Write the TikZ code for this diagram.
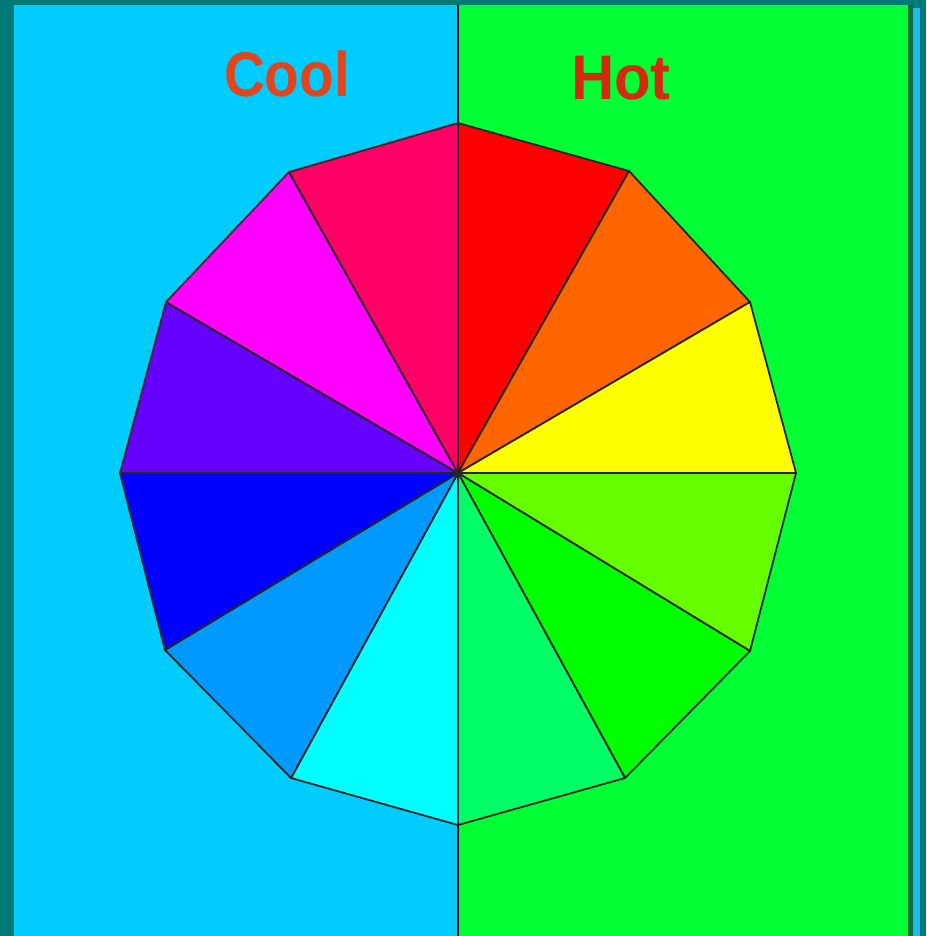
\documentclass[tikz,border=0pt]{standalone}
\usepackage{fontspec}
\setmainfont{Liberation Sans}
\definecolor{teal0}{HTML}{007A76}
\definecolor{coolbg}{HTML}{00CCFF}
\definecolor{hotbg}{HTML}{00FF33}
\definecolor{darkedge}{HTML}{0A6E40}
\definecolor{edgeblue}{HTML}{22BBEE}
\definecolor{cooltxt}{HTML}{E2441C}
\definecolor{hottxt}{HTML}{D42A12}
\definecolor{cRed}{HTML}{FF0000}
\definecolor{cOrange}{HTML}{FF6600}
\definecolor{cYellow}{HTML}{FFFF00}
\definecolor{cLime}{HTML}{66FF00}
\definecolor{cGreen}{HTML}{00FF00}
\definecolor{cSpring}{HTML}{00FF66}
\definecolor{cCyan}{HTML}{00FFFF}
\definecolor{cAzure}{HTML}{0099FF}
\definecolor{cBlue}{HTML}{0000FF}
\definecolor{cViolet}{HTML}{6600FF}
\definecolor{cMagenta}{HTML}{FF00FF}
\definecolor{cRose}{HTML}{FF0066}
\begin{document}
\begin{tikzpicture}[x=1pt,y=-1pt,
  wedge/.style={draw=black!85, line width=1.8pt, line join=round},
  label/.style={inner sep=0pt, font=\fontsize{63}{70}\selectfont\bfseries}]
\useasboundingbox (0,0) rectangle (926,936);
% backgrounds
\fill[teal0] (0,0) rectangle (926,936);
\fill[coolbg] (14,5) rectangle (458,936);
\fill[hotbg] (458,5) rectangle (908,936);
\fill[darkedge] (908,5) rectangle (913,936);
\fill[edgeblue] (913,8) rectangle (920,936);
% coordinates
\coordinate (O) at (458,473);
\coordinate (v0) at (796,473);
\coordinate (v30) at (750,302);
\coordinate (v60) at (629,171);
\coordinate (v90) at (458,123);
\coordinate (v120) at (289,172);
\coordinate (v150) at (166,302);
\coordinate (v180) at (120,473);
\coordinate (v210) at (165,650);
\coordinate (v240) at (291,778);
\coordinate (v270) at (458,825);
\coordinate (v300) at (625,778);
\coordinate (v330) at (750,651);
\coordinate (top) at (458,5);
\coordinate (bot) at (458,936);
% divider
\draw[black, line width=1.6pt] (top) -- (bot);
% wedges
\draw[wedge, fill=cRed] (O) -- (v90) -- (v60) -- cycle;
\draw[wedge, fill=cOrange] (O) -- (v60) -- (v30) -- cycle;
\draw[wedge, fill=cYellow] (O) -- (v30) -- (v0) -- cycle;
\draw[wedge, fill=cLime] (O) -- (v0) -- (v330) -- cycle;
\draw[wedge, fill=cGreen] (O) -- (v330) -- (v300) -- cycle;
\draw[wedge, fill=cSpring] (O) -- (v300) -- (v270) -- cycle;
\draw[wedge, fill=cCyan] (O) -- (v270) -- (v240) -- cycle;
\draw[wedge, fill=cAzure] (O) -- (v240) -- (v210) -- cycle;
\draw[wedge, fill=cBlue] (O) -- (v210) -- (v180) -- cycle;
\draw[wedge, fill=cViolet] (O) -- (v180) -- (v150) -- cycle;
\draw[wedge, fill=cMagenta] (O) -- (v150) -- (v120) -- cycle;
\draw[wedge, fill=cRose] (O) -- (v120) -- (v90) -- cycle;
% labels
\node[label, text=cooltxt, xscale=0.9] (cool) at (287,74) {Cool};
\node[label, text=hottxt, xscale=0.95] (hot) at (621,78) {Hot};
\end{tikzpicture}
\end{document}
